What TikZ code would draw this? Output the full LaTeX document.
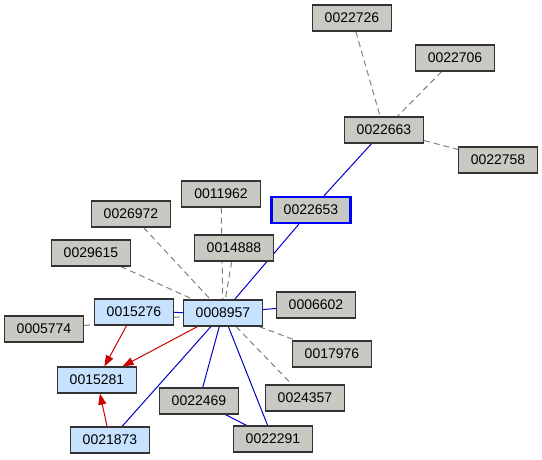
\documentclass[tikz,border=0pt]{standalone}
\usepackage{fontspec}
\setmainfont{Liberation Sans}
\usetikzlibrary{arrows.meta, positioning, backgrounds}
\definecolor{ggray}{HTML}{C8C9C3}
\definecolor{gblue}{HTML}{C6E2FF}
\definecolor{eblue}{HTML}{0000CC}
\definecolor{ered}{HTML}{CC0000}
\definecolor{edash}{HTML}{808080}
\tikzset{
  gnode/.style={draw=black!80, fill=ggray, line width=1.2pt, minimum width=79pt,
                minimum height=26pt, inner sep=0pt, font=\fontsize{14}{16}\selectfont},
  bnode/.style={gnode, fill=gblue},
  hnode/.style={gnode, draw=blue, line width=2.4pt},
  link/.style={eblue, line width=1pt},
  weak/.style={edash, dashed, dash pattern=on 6pt off 4pt, line width=1pt},
  cite/.style={-{Triangle[length=11pt,width=8pt]}, ered, line width=1pt},
}

\begin{document}
\begin{tikzpicture}[x=1pt, y=-1pt]
  \useasboundingbox (0,0) rectangle (542,459);
  % nodes
  \node[gnode] (n2726) at (352,18) {0022726};
  \node[gnode] (n2706) at (455,58) {0022706};
  \node[gnode] (n2663) at (384,130) {0022663};
  \node[gnode] (n2758) at (498,160) {0022758};
  \node[hnode] (n2653) at (311,210) {0022653};
  \node[gnode] (n1962) at (221,194) {0011962};
  \node[gnode] (n6972) at (131,214) {0026972};
  \node[gnode] (n4888) at (234,248) {0014888};
  \node[gnode] (n9615) at (91,253) {0029615};
  \node[bnode] (n5276) at (134,312) {0015276};
  \node[bnode] (n8957) at (223,313) {0008957};
  \node[gnode] (n6602) at (316,305) {0006602};
  \node[gnode] (n5774) at (44,329) {0005774};
  \node[gnode] (n7976) at (332,354) {0017976};
  \node[bnode] (n5281) at (97,380) {0015281};
  \node[gnode] (n2469) at (199,401) {0022469};
  \node[gnode] (n4357) at (305,398) {0024357};
  \node[bnode] (n1873) at (110,440) {0021873};
  \node[gnode] (n2291) at (273,439) {0022291};
  % edges
  \begin{scope}[on background layer]
    \draw[weak] (n2726) -- (n2663);
    \draw[weak] (n2706) -- (n2663);
    \draw[weak] (n2663) -- (n2758);
    \draw[weak] (n1962) -- (n8957);
    \draw[weak] (n4888) -- (n8957);
    \draw[weak] (n6972) -- (n8957);
    \draw[weak] (n9615) -- (n8957);
    \draw[weak] (n5774) -- (n8957);
    \draw[weak] (n8957) -- (n7976);
    \draw[weak] (n8957) -- (n4357);
    \draw[link] (n2663) -- (n2653);
    \draw[link] (n2653) -- (n8957);
    \draw[link] (n5276) -- (n8957);
    \draw[link] (n8957) -- (n6602);
    \draw[link] (n8957) -- (n2469);
    \draw[link] (n8957) -- (n2291);
    \draw[link] (n8957) -- (n1873);
    \draw[link] (n2469) -- (n2291);
  \end{scope}
  \draw[cite] (n5276) -- (n5281);
  \draw[cite] (n8957) -- (n5281);
  \draw[cite] (n1873) -- (n5281);
\end{tikzpicture}
\end{document}
